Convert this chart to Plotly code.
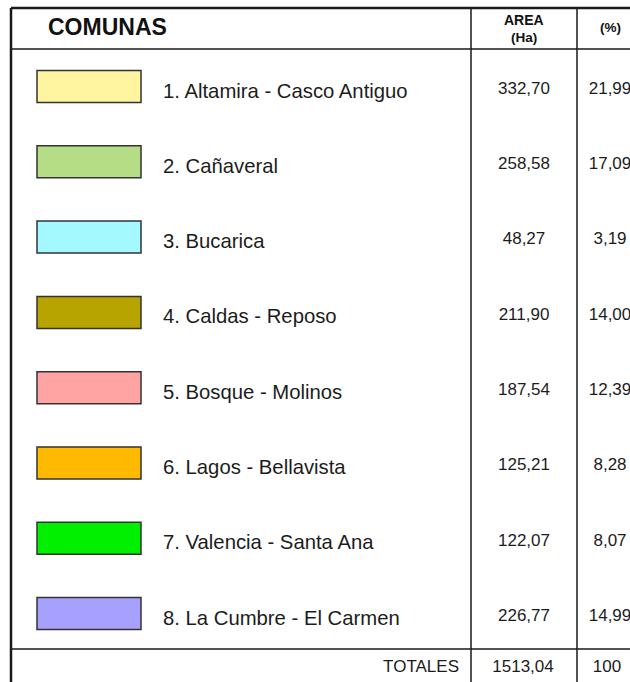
import plotly.graph_objects as go

comunas = [
    "1. Altamira - Casco Antiguo",
    "2. Cañaveral",
    "3. Bucarica",
    "4. Caldas - Reposo",
    "5. Bosque - Molinos",
    "6. Lagos - Bellavista",
    "7. Valencia - Santa Ana",
    "8. La Cumbre - El Carmen",
]
areas = [332.70, 258.58, 48.27, 211.90, 187.54, 125.21, 122.07, 226.77]
pcts = [21.99, 17.09, 3.19, 14.00, 12.39, 8.28, 8.07, 14.99]
colors = ["#FFF5A0", "#B5DD86", "#A3F9FF", "#B8A400",
          "#FFA3A3", "#FFBA00", "#00F000", "#A8A0FF"]
total_area = "1513,04"
total_pct = "100"
headers = ["COMUNAS", "AREA", "(Ha)", "(%)", "TOTALES"]


def fmt(v):
    return f"{v:.2f}".replace(".", ",")


W, H = 630, 682
row0, rowstep = 86.5, 75.3
rows = [row0 + i * rowstep for i in range(len(comunas))]
FONT = "Liberation Sans, Arial, sans-serif"
TXT = "#1c1c1c"

fig = go.Figure()

fig.add_trace(go.Bar(
    orientation="h", base=[37] * len(rows), x=[104] * len(rows), y=rows,
    width=32, marker=dict(color=colors, line=dict(color="#333333", width=1.5)),
    hoverinfo="skip", showlegend=False,
))

fig.add_trace(go.Scatter(
    x=[163] * len(rows), y=[r + 6 for r in rows], mode="text", text=comunas,
    textposition="middle right", textfont=dict(family=FONT, size=20.3, color=TXT),
    hoverinfo="skip", showlegend=False, cliponaxis=False,
))
fig.add_trace(go.Scatter(
    x=[524] * len(rows), y=[r + 3 for r in rows], mode="text",
    text=[fmt(a) for a in areas], textposition="middle center",
    textfont=dict(family=FONT, size=17, color=TXT),
    hoverinfo="skip", showlegend=False, cliponaxis=False,
))
fig.add_trace(go.Scatter(
    x=[610] * len(rows), y=[r + 3 for r in rows], mode="text",
    text=[fmt(p) for p in pcts], textposition="middle center",
    textfont=dict(family=FONT, size=17, color=TXT),
    hoverinfo="skip", showlegend=False, cliponaxis=False,
))
fig.add_trace(go.Scatter(
    x=[459, 523, 607], y=[668, 668, 668], mode="text",
    text=[headers[4], total_area, total_pct],
    textposition=["middle left", "middle center", "middle center"],
    textfont=dict(family=FONT, size=17, color=TXT),
    hoverinfo="skip", showlegend=False, cliponaxis=False,
))

ann = [
    dict(x=46, y=27, text="<b>" + headers[0] + "</b>", xanchor="left",
         font=dict(family=FONT, size=23, color="#111")),
    dict(x=524, y=20, text="<b>" + headers[1] + "</b>", xanchor="center",
         font=dict(family=FONT, size=14, color="#111")),
    dict(x=524, y=37, text="<b>" + headers[2] + "</b>", xanchor="center",
         font=dict(family=FONT, size=13.5, color="#111")),
    dict(x=610, y=27, text="<b>" + headers[3] + "</b>", xanchor="center",
         font=dict(family=FONT, size=13.5, color="#111")),
]
for a in ann:
    a.update(xref="x", yref="y", yanchor="middle", showarrow=False)

lc = "#1a1a1a"
shapes = [
    dict(x0=11, x1=W + 5, y0=8, y1=8, width=2.5),
    dict(x0=11, x1=11, y0=8, y1=H + 5, width=2.5),
    dict(x0=11, x1=W + 5, y0=49, y1=49, width=1.5),
    dict(x0=471, x1=471, y0=8, y1=H + 5, width=1.5),
    dict(x0=577, x1=577, y0=8, y1=H + 5, width=1.5),
    dict(x0=11, x1=W + 5, y0=649, y1=649, width=1.5),
]
shape_objs = [dict(type="line", xref="x", yref="y", x0=s["x0"], x1=s["x1"],
                   y0=s["y0"], y1=s["y1"], line=dict(color=lc, width=s["width"]))
              for s in shapes]

fig.update_layout(
    width=W, height=H, margin=dict(l=0, r=0, t=0, b=0),
    paper_bgcolor="white", plot_bgcolor="white",
    xaxis=dict(range=[0, W], visible=False, fixedrange=True),
    yaxis=dict(range=[H, 0], visible=False, fixedrange=True),
    annotations=ann, shapes=shape_objs, showlegend=False,
)

fig.write_html(
    "out.html",
    config={"displayModeBar": False, "staticPlot": True},
    post_script="document.body.style.margin='0';document.body.style.overflow='hidden';",
)
